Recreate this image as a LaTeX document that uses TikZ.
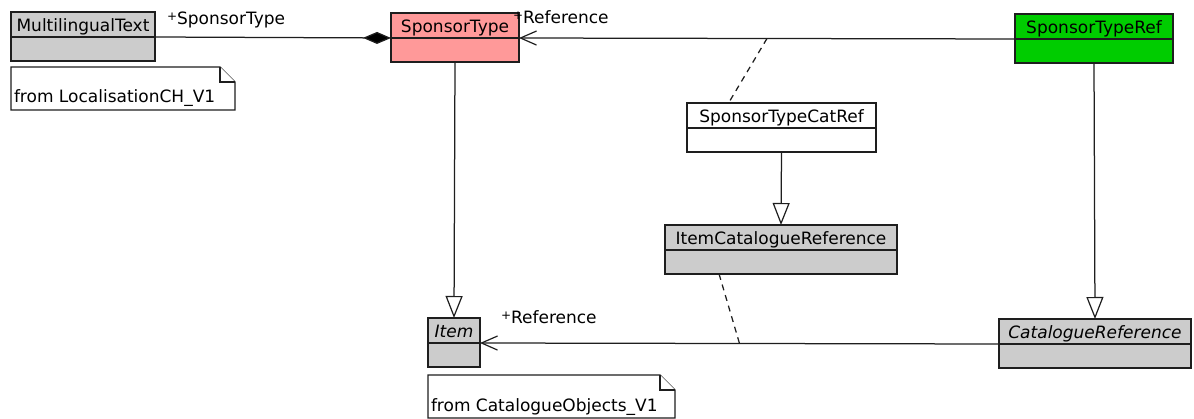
\documentclass[tikz,border=0pt]{standalone}
\usepackage{fontspec}
\setmainfont{DejaVu Sans}
\usetikzlibrary{arrows.meta,calc}
\definecolor{clsgray}{RGB}{204,204,204}
\definecolor{clspink}{RGB}{255,153,153}
\definecolor{clsgreen}{RGB}{0,204,0}
\definecolor{lncol}{RGB}{30,30,30}
\newcommand\umlcls[6]{%
  \node[hdr, fill=#5, minimum width=#4] (#1-h) at (#2,#3) {#6};
  \node[bdy, fill=#5, minimum width=#4] (#1-b) at (#1-h.south) {};
}
\newcommand\umlnote[6]{%
  \node[notebox, minimum width=#4, minimum height=#5] (#1) at (#2,#3) {};
  \draw[notedraw] (#1.south west) -- (#1.north west) -- ([xshift=-15pt]#1.north east)
     -- ([yshift=-15pt]#1.north east) -- (#1.south east) -- cycle;
  \draw[notedraw] ([xshift=-15pt]#1.north east) -- ([xshift=-15pt,yshift=-15pt]#1.north east)
     -- ([yshift=-15pt]#1.north east);
  \node[txt, anchor=base west] (#1-t) at ([xshift=3pt,yshift=7pt]#1.south west) {#6};
}
\begin{document}
\begin{tikzpicture}[x=1pt,y=-1pt,
  txt/.style={inner sep=0pt, outer sep=0pt, font=\fontsize{17}{17}\selectfont},
  hdr/.style={txt, draw=lncol, line width=1.3pt, anchor=north west, minimum height=25pt,
    text height=14pt, text depth=0.5pt},
  bdy/.style={draw=lncol, line width=1.3pt, inner sep=0pt, outer sep=0pt, anchor=north, minimum height=24pt},
  notebox/.style={inner sep=0pt, outer sep=0pt, anchor=north west},
  notedraw/.style={draw=lncol, line width=1.2pt, fill=white},
  conn/.style={draw=lncol, line width=1.25pt},
  assoc/.style={conn, dash pattern=on 6pt off 5pt},
  lbl/.style={txt, anchor=base west},
  openarrow/.style={-{Straight Barb[length=16pt,width=14pt,line width=1.2pt]}},
  composite/.style={{Diamond[length=28pt,width=12pt,fill=black]}-},
  generalize/.style={-{Triangle[open,length=22pt,width=17pt,fill=white,line width=1.2pt]}}
]
\useasboundingbox (0,0) rectangle (1194,419);

% classes
\umlcls{mt}{11}{12}{144}{clsgray}{MultilingualText}
\umlcls{st}{391}{13}{128}{clspink}{SponsorType}
\umlcls{str}{1015}{14}{158}{clsgreen}{SponsorTypeRef}
\umlcls{stcr}{687}{103}{189}{white}{SponsorTypeCatRef}
\umlcls{icr}{665}{225}{232}{clsgray}{ItemCatalogueReference}
\umlcls{item}{428}{318}{52}{clsgray}{\textit{Item}}
\umlcls{cr}{999}{319}{192}{clsgray}{\textit{CatalogueReference}}

% notes
\umlnote{n1}{11}{67}{224}{43}{from LocalisationCH\_V1}
\umlnote{n2}{428}{375}{247}{43}{from CatalogueObjects\_V1}

% composition
\draw[conn, composite] (st-h.south west) -- (mt-h.south east)
  node[lbl, pos=1, xshift=12pt, yshift=12pt] {\raisebox{4pt}{\fontsize{12}{12}\selectfont+}SponsorType};

% association SponsorTypeRef -> SponsorType
\draw[conn, openarrow] (str-h.south west) -- (st-h.south east)
  coordinate[pos=0.5] (a1mid)
  node[lbl, pos=1, xshift=-6pt, yshift=14pt] {\raisebox{4pt}{\fontsize{12}{12}\selectfont+}Reference};
\draw[assoc] (a1mid) -- ($(stcr-h.north west)!0.22!(stcr-h.north east)$);

% association CatalogueReference -> Item
\draw[conn, openarrow] (cr-h.south west) -- (item-h.south east)
  coordinate[pos=0.5] (a2mid)
  node[lbl, pos=1, xshift=21pt, yshift=19pt] {\raisebox{4pt}{\fontsize{12}{12}\selectfont+}Reference};
\draw[assoc] ($(icr-b.south west)!0.233!(icr-b.south east)$) -- (a2mid);

% generalizations
\draw[conn, generalize] (stcr-b.south) -- (icr-h.north);
\draw[conn, generalize] (st-b.south) -- (item-h.north);
\draw[conn, generalize] (str-b.south) -- (cr-h.north);
\end{tikzpicture}
\end{document}
